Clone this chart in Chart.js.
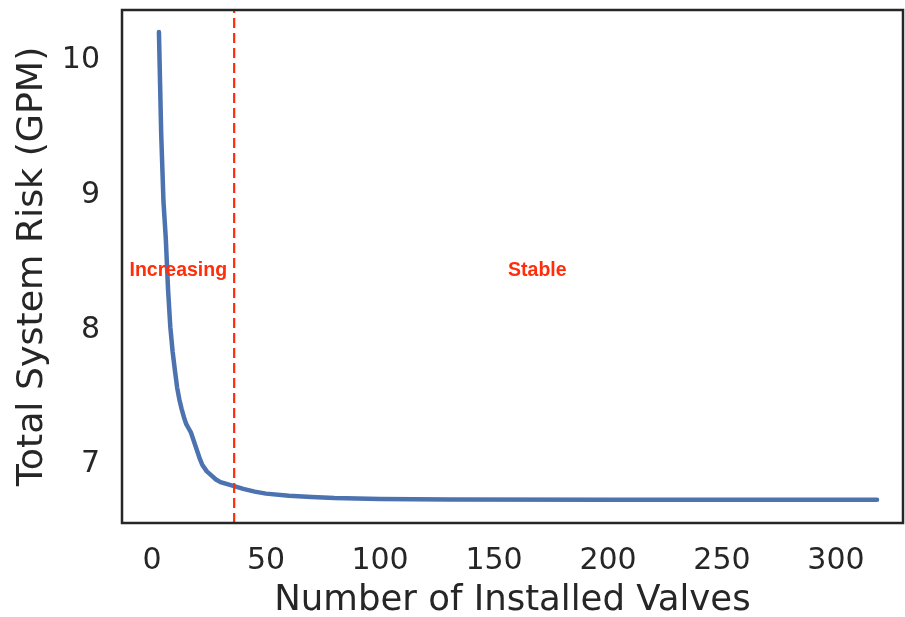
<!DOCTYPE html>
<html>
<head>
<meta charset="utf-8">
<script src="https://cdn.jsdelivr.net/npm/chart.js@4.4.1/dist/chart.umd.min.js"></script>
<style>
  html, body { margin: 0; padding: 0; background: #ffffff; }
  canvas { display: block; }
</style>
</head>
<body>
<canvas id="chart" width="905" height="617"></canvas>
<script>
// Number of installed valves and the resulting total system risk (GPM)
const valves = [3, 4, 5, 6, 7, 8, 9, 10, 11, 12, 13, 14, 15, 16, 17, 18, 19, 20, 21, 22,
                24, 26, 28, 30, 33, 36, 40, 45, 50, 60, 70, 80, 100, 130, 200, 318];
const risk = [10.21, 9.45, 8.95, 8.68, 8.30, 8.02, 7.84, 7.70, 7.57, 7.48, 7.41, 7.35, 7.30, 7.27, 7.24, 7.19,
              7.14, 7.09, 7.04, 7.00, 6.95, 6.92, 6.89, 6.87, 6.855, 6.84, 6.82, 6.80, 6.785, 6.77,
              6.76, 6.752, 6.745, 6.742, 6.74, 6.74];

// Axis ticks
const xTicks = [0, 50, 100, 150, 200, 250, 300];
const yTicks = [7, 8, 9, 10];

// Phase boundary and phase labels
const boundaryValves = 36;
const phaseNames = ['Increasing', 'Stable'];
const phaseNameX = [11.5, 169];
const phaseNameY = 8.40;

const INK = '#262626';
const PHASE_RED = '#ff2d0a';

const phasePlugin = {
  id: 'phases',
  afterDatasetsDraw(chart) {
    const { ctx, chartArea, scales } = chart;
    const xs = scales.x, ys = scales.y;
    ctx.save();
    // dashed boundary between the two phases
    const bx = xs.getPixelForValue(boundaryValves);
    ctx.strokeStyle = PHASE_RED;
    ctx.lineWidth = 2.2;
    ctx.setLineDash([10, 5]);
    ctx.beginPath();
    ctx.moveTo(bx, chartArea.bottom);
    ctx.lineTo(bx, chartArea.top);
    ctx.stroke();
    ctx.setLineDash([]);
    // phase names
    ctx.fillStyle = PHASE_RED;
    ctx.font = 'bold 19.5px "Liberation Sans", Arial, sans-serif';
    ctx.textAlign = 'center';
    ctx.textBaseline = 'alphabetic';
    phaseNames.forEach((name, i) => {
      ctx.fillText(name, xs.getPixelForValue(phaseNameX[i]), ys.getPixelForValue(phaseNameY));
    });
    ctx.restore();
  }
};

const framePlugin = {
  id: 'frame',
  afterDraw(chart) {
    const { ctx, chartArea } = chart;
    ctx.save();
    ctx.strokeStyle = INK;
    ctx.lineWidth = 2.5;
    ctx.strokeRect(chartArea.left, chartArea.top,
                   chartArea.right - chartArea.left, chartArea.bottom - chartArea.top);
    ctx.restore();
  }
};

const tickFont = { family: '"DejaVu Sans", sans-serif', size: 30 };

new Chart(document.getElementById('chart'), {
  type: 'line',
  data: {
    datasets: [{
      data: valves.map((v, i) => ({ x: v, y: risk[i] })),
      borderColor: '#4c72b0',
      borderWidth: 4.5,
      pointRadius: 0,
      tension: 0,
      fill: false,
      borderCapStyle: 'round',
      borderJoinStyle: 'round'
    }]
  },
  options: {
    responsive: false,
    animation: false,
    events: [],
    layout: { padding: { top: 10, right: 2, left: 0, bottom: 0 } },
    plugins: { legend: { display: false }, tooltip: { enabled: false } },
    scales: {
      x: {
        type: 'linear',
        min: -13.2,
        max: 329.4,
        afterBuildTicks: s => { s.ticks = xTicks.map(v => ({ value: v })); },
        afterFit: s => { s.height = 94; s.paddingLeft = 0; s.paddingRight = 0; },
        grid: { display: false, drawTicks: false },
        border: { display: false },
        ticks: { font: tickFont, color: INK, padding: 20, maxRotation: 0, autoSkip: false,
                 callback: v => String(v) },
        title: { display: true, text: 'Number of Installed Valves', color: INK,
                 font: { family: '"DejaVu Sans", sans-serif', size: 35.5, lineHeight: 1 },
                 padding: { top: 0, bottom: -1.5 } }
      },
      y: {
        type: 'linear',
        min: 6.567,
        max: 10.373,
        afterBuildTicks: s => { s.ticks = yTicks.map(v => ({ value: v })); },
        afterFit: s => { s.width = 122; s.paddingTop = 0; s.paddingBottom = 0; },
        grid: { display: false, drawTicks: false },
        border: { display: false },
        ticks: { font: tickFont, color: INK, padding: 22, autoSkip: false,
                 callback: v => String(v) },
        title: { display: true, text: 'Total System Risk (GPM)', color: INK,
                 font: { family: '"DejaVu Sans", sans-serif', size: 36.3, lineHeight: 1 },
                 padding: { top: 14, bottom: 0 } }
      }
    }
  },
  plugins: [phasePlugin, framePlugin]
});
</script>
</body>
</html>
